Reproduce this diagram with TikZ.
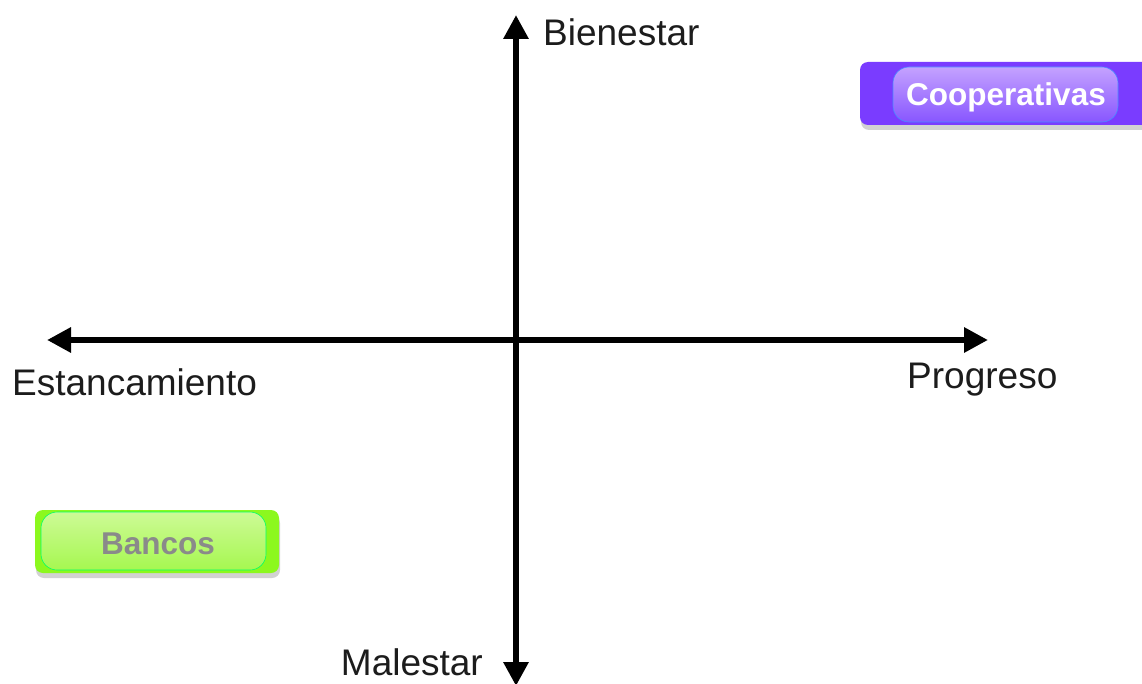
\documentclass[tikz,border=0pt]{standalone}
\usepackage{fontspec}
\setmainfont{Liberation Sans}
\usetikzlibrary{arrows.meta,shadows}
\definecolor{axisc}{HTML}{000000}
\definecolor{labc}{HTML}{1C1C1C}
\definecolor{purpout}{HTML}{7A3CFF}
\definecolor{purptop}{HTML}{C4A2FF}
\definecolor{purpbot}{HTML}{8856FF}
\definecolor{greenout}{HTML}{8CF81E}
\definecolor{greentop}{HTML}{CDFA96}
\definecolor{greenbot}{HTML}{A6F850}
\definecolor{bancotext}{HTML}{8A8A8A}
\tikzset{
  axis/.style={line width=6pt,draw=axisc,-{Triangle[length=24pt,width=24pt]}},
  lab/.style={text=labc,inner sep=0pt,font=\fontsize{37}{40}\selectfont},
  outbox/.style={rounded corners=8pt,drop shadow={shadow xshift=1pt,shadow yshift=-5pt,opacity=0.25,fill=black!70}},
  pill/.style={rounded corners=16pt},
  btntext/.style={inner sep=0pt,font=\bfseries\fontsize{31.5}{33}\selectfont}
}
\begin{document}
\begin{tikzpicture}[x=1pt,y=-1pt]
\useasboundingbox (0,0) rectangle (1142,684);
\fill[white] (0,0) rectangle (1142,684);
% axes
\coordinate (vtop) at (516,15);
\coordinate (vbot) at (516,686);
\coordinate (hleft) at (47,340);
\coordinate (hright) at (988,340);
\coordinate (vmid) at (516,340);
\draw[axis] (vmid) -- (vtop);
\draw[axis] (vmid) -- (vbot);
\draw[axis] (vmid) -- (hleft);
\draw[axis] (vmid) -- (hright);
% labels
\node[lab,anchor=west] (bien) at (543,32) {Bienestar};
\node[lab,anchor=east] (mal) at (483,662) {Malestar};
\node[lab,anchor=west] (est) at (12,382) {Estancamiento};
\node[lab,anchor=west] (prog) at (907,380) {Progreso};
% Cooperativas
\fill[outbox,fill=purpout] (860,62) rectangle (1160,125);
\shade[pill,top color=purptop,bottom color=purpbot,draw=purpout!60!cyan,line width=0.6pt] (893,67) rectangle (1118,122);
\node[btntext,text=white] (coop) at (1006,97) {Cooperativas};
% Bancos
\fill[outbox,fill=greenout] (35,510) rectangle (279,573);
\shade[pill,top color=greentop,bottom color=greenbot,draw=green!60!cyan,line width=0.6pt] (41,512) rectangle (266,570);
\node[btntext,text=bancotext] (banc) at (158,544) {Bancos};
\end{tikzpicture}
\end{document}
